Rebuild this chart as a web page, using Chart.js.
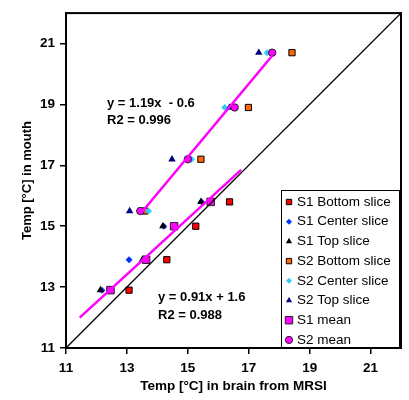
<!DOCTYPE html>
<html>
<head>
<meta charset="utf-8">
<script src="https://cdn.jsdelivr.net/npm/chart.js@4/dist/chart.umd.min.js"></script>
<style>
  html, body { margin: 0; padding: 0; background: #fff; }
</style>
</head>
<body>
<canvas id="chart" width="409" height="400"></canvas>
<script>
// mouth temperature per scan, study 1 and study 2
const s1Mouth = [12.9, 13.9, 15.0, 15.8];
const s2Mouth = [15.5, 17.2, 18.9, 20.7];

// brain temperature from MRSI per slice
const s1Bottom = [13.07, 14.31, 15.26, 16.37];
const s1Center = [12.18, 13.07, 14.21, 15.45];
const s1Top    = [12.13, 13.51, 14.18, 15.43];
const s2Bottom = [13.58, 15.43, 16.99, 18.42];
const s2Center = [13.71, 15.12, 16.21, 17.60];
const s2Top    = [13.09, 14.48, 16.37, 17.33];
const s1Mean   = [12.46, 13.63, 14.55, 15.75];
const s2Mean   = [13.44, 15.00, 16.54, 17.77];

// trendline end points as drawn
const s1FitX = [11.45, 16.75];
const s1FitY = [12.0, 16.85];
const s2FitX = [13.44, 17.77];
const s2FitY = [15.4, 20.6];
const identity = [11, 22];

const axisTicks = [11, 13, 15, 17, 19, 21];
const s1Equation = ['y = 0.91x + 1.6', 'R2 = 0.988'];
const s2Equation = ['y = 1.19x  - 0.6', 'R2 = 0.996'];

const pts = (xs, ys) => xs.map((x, i) => ({x: x, y: ys[i]}));

const series = [
    {label: 'S1 Bottom slice', data: pts(s1Bottom, s1Mouth), pointStyle: 'rect', pointRadius: 4.4, backgroundColor: '#ff0000', borderColor: '#000', borderWidth: 1, legendRadius: 3.8},
    {label: 'S1 Center slice', data: pts(s1Center, s1Mouth), pointStyle: 'rectRot', pointRadius: 3.5, backgroundColor: '#0033ff', borderColor: '#0033ff', borderWidth: 0, legendRadius: 3},
    {label: 'S1 Top slice', data: pts(s1Top, s1Mouth), pointStyle: 'triangle', pointRadius: 4.3, backgroundColor: '#000', borderColor: '#000', borderWidth: 0, legendRadius: 3.6},
    {label: 'S2 Bottom slice', data: pts(s2Bottom, s2Mouth), pointStyle: 'rect', pointRadius: 4.4, backgroundColor: '#ff6600', borderColor: '#000', borderWidth: 1, legendRadius: 3.8},
    {label: 'S2 Center slice', data: pts(s2Center, s2Mouth), pointStyle: 'rectRot', pointRadius: 3.5, backgroundColor: '#33ccff', borderColor: '#33ccff', borderWidth: 0, legendRadius: 3},
    {label: 'S2 Top slice', data: pts(s2Top, s2Mouth), pointStyle: 'triangle', pointRadius: 4.3, backgroundColor: '#000080', borderColor: '#000080', borderWidth: 0, legendRadius: 3.6},
    {label: 'S1 mean', data: pts(s1Mean, s1Mouth), pointStyle: 'rect', pointRadius: 5.3, backgroundColor: '#ff00ff', borderColor: '#222', borderWidth: 1, legendRadius: 5.3},
    {label: 'S2 mean', data: pts(s2Mean, s2Mouth), pointStyle: 'circle', pointRadius: 3.7, backgroundColor: '#ff00ff', borderColor: '#222', borderWidth: 1, legendRadius: 3.6}
];

const datasets = series.map((s, i) => Object.assign({}, s, {
    showLine: false,
    pointHoverRadius: s.pointRadius,
    order: 20 - i,
    inLegend: true
}));

// lines go on top of the markers
datasets.push({label: 'y = x', data: pts(identity, identity), showLine: true, pointRadius: 0, borderColor: '#000', borderWidth: 1.3, order: 2});
datasets.push({label: 'S1 fit', data: pts(s1FitX, s1FitY), showLine: true, pointRadius: 0, borderColor: '#ff00ff', borderWidth: 2.5, order: 1});
datasets.push({label: 'S2 fit', data: pts(s2FitX, s2FitY), showLine: true, pointRadius: 0, borderColor: '#ff00ff', borderWidth: 2.5, order: 0});

const FONT = "'Liberation Sans', Arial, sans-serif";

const frame = {
    id: 'frame',
    afterDatasetsDraw(chart) {
        const {ctx, chartArea: a} = chart;
        ctx.save();
        ctx.strokeStyle = '#000';
        ctx.lineWidth = 2;
        ctx.strokeRect(a.left, a.top, a.right - a.left, a.bottom - a.top);
        ctx.restore();
    }
};

const equations = {
    id: 'equations',
    afterDraw(chart) {
        const {ctx} = chart;
        ctx.save();
        ctx.fillStyle = '#000';
        ctx.font = 'bold 13px ' + FONT;
        ctx.textBaseline = 'middle';
        ctx.textAlign = 'left';
        ctx.fillText(s2Equation[0], 107, 103);
        ctx.fillText(s2Equation[1], 107, 120);
        ctx.fillText(s1Equation[0], 158, 297);
        ctx.fillText(s1Equation[1], 158, 315);
        ctx.restore();
    }
};

const boxLegend = {
    id: 'boxLegend',
    afterDraw(chart) {
        const {ctx} = chart;
        const items = chart.data.datasets.filter(d => d.inLegend);
        const left = 281, top = 190, width = 118, height = 157, rowH = 19.7;
        ctx.save();
        ctx.fillStyle = '#fff';
        ctx.fillRect(left, top, width, height);
        ctx.strokeStyle = '#000';
        ctx.lineWidth = 1;
        ctx.strokeRect(left + 0.5, top + 0.5, width, height);
        ctx.font = '13.5px ' + FONT;
        ctx.textBaseline = 'middle';
        items.forEach((d, i) => {
            const y = top + 12 + i * rowH;
            ctx.fillStyle = d.backgroundColor;
            ctx.strokeStyle = d.borderColor;
            ctx.lineWidth = d.borderWidth;
            Chart.helpers.drawPoint(ctx, {
                pointStyle: d.pointStyle,
                radius: d.legendRadius,
                borderWidth: d.borderWidth,
                rotation: 0
            }, left + 8, y);
            ctx.fillStyle = '#000';
            ctx.fillText(d.label, left + 16, y);
        });
        ctx.restore();
    }
};

const axisBase = (title, pad) => ({
    type: 'linear',
    min: 11,
    max: 22,
    afterBuildTicks: scale => { scale.ticks = axisTicks.map(v => ({value: v})); },
    grid: {display: true, drawOnChartArea: false, drawTicks: true, tickLength: 6, color: '#000', lineWidth: 1.5},
    border: {display: true, color: '#000', width: 2},
    ticks: {color: '#000', padding: 5, font: {family: FONT, size: 13.5, weight: 'bold'}},
    title: {display: true, text: title, color: '#000', padding: pad, font: {family: FONT, size: 13.5, weight: 'bold'}}
});

const xAxis = axisBase('Temp [°C] in brain from MRSI', {top: 0, bottom: 6});
xAxis.ticks.padding = 6;
xAxis.afterFit = scale => { scale.height = 52; };
const yAxis = axisBase('Temp [°C] in mouth', {top: 20, bottom: 0});
yAxis.title.font.size = 13;
yAxis.afterFit = scale => { scale.width = 66; };

new Chart(document.getElementById('chart').getContext('2d'), {
    type: 'scatter',
    data: {datasets: datasets},
    options: {
        responsive: false,
        animation: false,
        devicePixelRatio: 1,
        layout: {padding: {left: 0, right: 8, top: 11, bottom: 0}},
        scales: {x: xAxis, y: yAxis},
        plugins: {
            legend: {display: false},
            tooltip: {enabled: false}
        }
    },
    plugins: [frame, equations, boxLegend]
});
</script>
</body>
</html>
